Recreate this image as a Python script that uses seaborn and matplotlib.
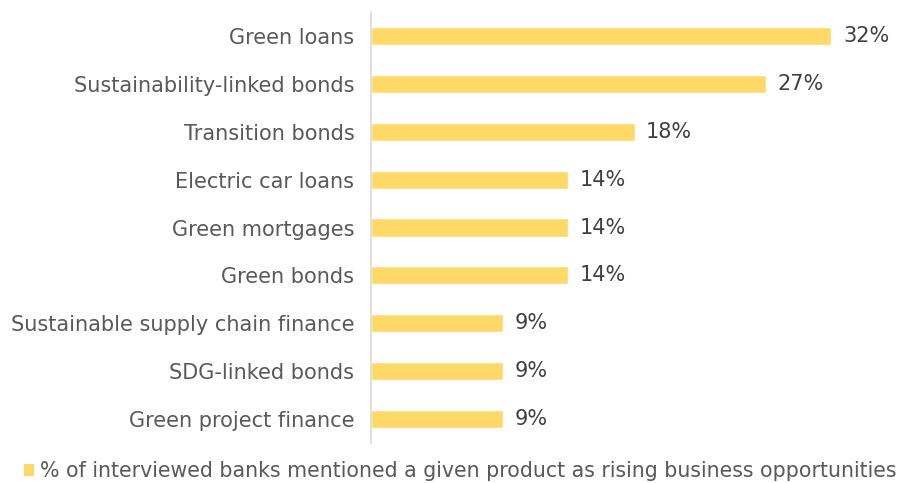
import matplotlib
matplotlib.use("Agg")
import matplotlib.pyplot as plt
import seaborn as sns
import pandas as pd
from matplotlib.patches import Patch

products = ["Green loans", "Sustainability-linked bonds", "Transition bonds",
            "Electric car loans", "Green mortgages", "Green bonds",
            "Sustainable supply chain finance", "SDG-linked bonds",
            "Green project finance"]
shares = [31.8, 27.3, 18.2, 13.6, 13.6, 13.6, 9.1, 9.1, 9.1]
legend_label = "% of interviewed banks mentioned a given product as rising business opportunities"

df = pd.DataFrame({"product": products, "share": shares})

sns.set_style("white")
plt.rcParams['font.family'] = ['DejaVu Sans']

fs = 15
fig = plt.figure(figsize=(9.16, 4.83), dpi=100)
ax = fig.add_axes([371 / 916, 40 / 483, 527 / 916, 431 / 483])

bar_color = "#FFD966"
sns.barplot(data=df, x="share", y="product", color=bar_color, width=0.38,
            saturation=1, ax=ax, orient="h")

for i, v in enumerate(shares):
    ax.text(v + 0.8, i, f"{v:.0f}%", va="center", ha="left",
            fontsize=fs, color="#404040")

ax.set_xlim(0, 36.4)
ax.set_ylim(8.5, -0.5)
ax.set_xlabel("")
ax.set_ylabel("")
ax.set_xticks([])
ax.tick_params(axis="y", length=0, pad=12, labelsize=fs, labelcolor="#595959")
for s in ["top", "right", "bottom"]:
    ax.spines[s].set_visible(False)
ax.spines["left"].set_color("#D9D9D9")
ax.spines["left"].set_linewidth(1.2)

handle = Patch(facecolor=bar_color, edgecolor="none")
fig.legend([handle], [legend_label], loc="center left",
           bbox_to_anchor=(24 / 916, 1 - 471 / 483), frameon=False, borderpad=0,
           borderaxespad=0, fontsize=14.8,
           handlelength=0.5, handleheight=0.5, handletextpad=0.3,
           labelcolor="#595959")

fig.savefig("out.png", dpi=100)
